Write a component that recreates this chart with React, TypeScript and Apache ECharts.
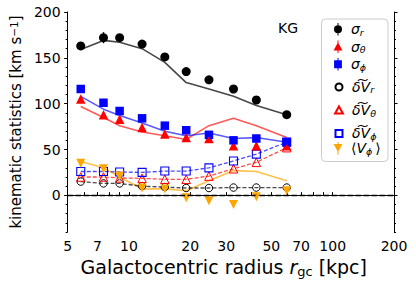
import React, { useEffect, useRef } from "react";
import * as echarts from "echarts";

// Galactocentric radius bins [kpc]
const radii = [5.8, 7.5, 9.0, 11.6, 15.0, 19.1, 24.7, 32.6, 42.2, 59.5];
// observed statistics [km/s]
const sigmaR = [163, 172, 172, 165, 151, 135, 126, 116, 104, 88];
const sigmaRErr = [2, 6, 2, 2, 2, 2, 2, 2, 2, 3];
const sigmaTheta = [105, 88, 83, 74, 67, 63, 62, 54, 54, 54];
const sigmaThetaErr = [2, 2, 2, 2, 2, 2, 2, 2, 2, 3];
const sigmaPhi = [116, 101, 92, 84, 76, 71, 66, 60, 62, 58];
const sigmaPhiErr = [2, 2, 2, 2, 2, 2, 2, 2, 2, 3];
const dVr = [15, 13, 13, 10, 9, 8, 8, 8.5, 8.5, 8.5];
const dVtheta = [20, 20, 19, 18.5, 17.5, 17.5, 21, 29, 36, 52];
const dVphi = [26, 26, 25.5, 25, 26.5, 26.5, 30, 37.5, 45, 58];
const meanVphi = [35, 29, 21, 8, 7, -2.5, -6, -10, -1.5, 5];
const meanVphiErr = [2, 2, 2, 2, 2, 2, 2, 2, 2, 2];
// model curves
const modelSigmaR = [159, 169, 167, 160, 145, 123, 116, 108, 98, 88];
const modelSigmaTheta = [97, 85, 76, 69, 65, 61, 76, 84, 76, 63];
const modelSigmaPhi = [108, 94, 87, 79, 70, 65, 68, 62, 63, 58];
const modelVphi = [37, 30, 20, 7, 7, 5, 16, 27, 26, 16];
// axes
const xRange = [5, 200];
const xTickLabels = [5, 7, 10, 20, 30, 50, 70, 100, 200];
const xTicks = [5, 6, 7, 8, 9, 10, 20, 30, 40, 50, 60, 70, 80, 90, 100, 200];
const yRange = [-40, 200];
const yTickLabels = [0, 50, 100, 150, 200];
const yMinorTicks = [-40, -30, -20, -10, 10, 20, 30, 40, 60, 70, 80, 90, 110, 120, 130, 140, 160, 170, 180, 190];

const FONT = "DejaVu Sans";
const lg = (v: number) => Math.log10(v);
const pts = (ys: number[]) => radii.map((r, i) => [lg(r), ys[i]]);
const errPts = (ys: number[], es: number[]) => radii.map((r, i) => [lg(r), ys[i] - es[i], ys[i] + es[i]]);

const errSeries = (name: string, ys: number[], es: number[], color: string) => ({
  type: "custom",
  name,
  z: 5,
  silent: true,
  data: errPts(ys, es),
  encode: { x: 0, y: [1, 2] },
  renderItem: (_p: any, api: any) => {
    const x = api.value(0);
    const a = api.coord([x, api.value(1)]);
    const b = api.coord([x, api.value(2)]);
    return {
      type: "line",
      shape: { x1: a[0], y1: a[1], x2: b[0], y2: b[1] },
      style: { stroke: color, lineWidth: 1.5 },
    };
  },
});

// legend icons, drawn in a 10 x H box (the two moveTo points pin the box)
const box = (h: number) => `path://M0,0 M10,${h} `;
const bar = (h: number, top: number, bot: number) => `M4.5,${top} h1 v${bot - top} h-1 Z `;
const ICON_SR = box(17.5) + bar(17.5, 2.4, 15.1) + "M5,4.75 A4,4 0 1,1 5,12.75 A4,4 0 1,1 5,4.75 Z";
const ICON_ST = box(17.5) + bar(17.5, 2.4, 15.1) + "M5,4.3 L9.4,12.4 L0.6,12.4 Z";
const ICON_SP = box(17.5) + bar(17.5, 2.4, 15.1) + "M1.1,4.85 h7.8 v7.8 h-7.8 Z";
const ICON_DR = box(21.2) + "M5,7.1 A3.5,3.5 0 1,1 5,14.1 A3.5,3.5 0 1,1 5,7.1 Z";
const ICON_DT = box(21.2) + "M5,6.8 L8.9,13.8 L1.1,13.8 Z";
const ICON_DP = box(21.2) + "M1.5,7.1 h7 v7 h-7 Z";
const ICON_VP = box(18) + bar(18, 2.6, 15.4) + "M0.6,4.8 L9.4,4.8 L5,12.6 Z";

const N_SR = "σ_r";
const N_ST = "σ_θ";
const N_SP = "σ_ϕ";
const N_DR = "δV_r";
const N_DT = "δV_θ";
const N_DP = "δV_ϕ";
const N_VP = "<V_ϕ>";

const legendText: Record<string, string> = {
  [N_SR]: "{g|σ}{s|r}",
  [N_ST]: "{g|σ}{s|θ}",
  [N_SP]: "{g|σ}{s|ϕ}",
  [N_DR]: "{g|δ\u0360V}{s|r}",
  [N_DT]: "{g|δ\u0360V}{s|θ}",
  [N_DP]: "{g|δ\u0360V}{s|ϕ}",
  [N_VP]: "{n|⟨}{h|V}{s|ϕ}{n|⟩}",
};

export default function App() {
  const ref = useRef<HTMLDivElement>(null);
  useEffect(() => {
    if (!ref.current) return;
    const chart = echarts.init(ref.current, undefined, { renderer: "svg" });
    const xMin = lg(xRange[0]);
    const xMax = lg(xRange[1]);
    const axisLineStyle = { color: "#000", width: 1 };
    const baseX = { type: "value", min: xMin, max: xMax, splitLine: { show: false } };
    const baseY = { type: "value", min: yRange[0], max: yRange[1], splitLine: { show: false } };
    const rich = {
      g: { fontFamily: FONT, fontStyle: "italic", fontSize: 14, lineHeight: 16, color: "#000", padding: [0, 0, 0, 3] },
      s: { fontFamily: FONT, fontStyle: "italic", fontSize: 9.5, lineHeight: 10, verticalAlign: "bottom", color: "#000" },
      n: { fontFamily: FONT, fontSize: 14, lineHeight: 16, color: "#000", padding: [0, 0, 0, 3] },
      h: { fontFamily: FONT, fontStyle: "italic", fontSize: 14, lineHeight: 16, color: "#000" },
    };
    const legendBase = {
      orient: "vertical",
      left: 333,
      padding: 0,
      itemGap: 0,
      itemWidth: 10,
      selectedMode: false,
      formatter: (name: string) => legendText[name] || name,
      textStyle: { fontFamily: FONT, fontSize: 14, color: "#000", rich },
    };
    const option: any = {
      animation: false,
      backgroundColor: "#fff",
      textStyle: { fontFamily: FONT },
      title: {
        text: "KG",
        left: 278,
        top: 21,
        padding: 0,
        textStyle: { fontFamily: FONT, fontSize: 14, fontWeight: "normal", color: "#000" },
      },
      graphic: [
        {
          type: "rect",
          z: 1,
          shape: { x: 321.5, y: 19, width: 66.5, height: 142.5, r: 4 },
          style: { fill: "rgba(255,255,255,0.85)", stroke: "#cccccc", lineWidth: 1 },
        },
      ],
      grid: { left: 62, right: 22, top: 12, bottom: 56 },
      legend: [
        {
          ...legendBase,
          top: 20.5,
          itemHeight: 17.5,
          data: [
            { name: N_SR, icon: ICON_SR },
            { name: N_ST, icon: ICON_ST },
            { name: N_SP, icon: ICON_SP },
          ],
        },
        {
          ...legendBase,
          top: 75.4,
          itemHeight: 21.2,
          data: [
            { name: N_DR, icon: ICON_DR },
            { name: N_DT, icon: ICON_DT },
            { name: N_DP, icon: ICON_DP },
          ],
        },
        {
          ...legendBase,
          top: 139.3,
          itemHeight: 18,
          data: [{ name: N_VP, icon: ICON_VP }],
        },
      ],
      xAxis: [
        {
          ...baseX,
          position: "bottom",
          name: "Galactocentric radius {it|r}{sub|gc} [kpc]",
          nameLocation: "middle",
          nameGap: 20,
          nameTextStyle: {
            fontFamily: FONT,
            fontSize: 19,
            color: "#000",
            padding: [0, 14, 0, 0],
            rich: {
              it: { fontFamily: FONT, fontStyle: "italic", fontSize: 19, color: "#000", lineHeight: 22 },
              sub: { fontFamily: FONT, fontSize: 13, color: "#000", verticalAlign: "bottom", lineHeight: 14 },
            },
          },
          axisLine: { show: true, lineStyle: axisLineStyle },
          axisTick: { show: true, inside: true, length: 3, customValues: xTicks.map(lg), lineStyle: axisLineStyle },
          axisLabel: {
            show: true,
            customValues: xTickLabels.map(lg),
            formatter: (v: number) => String(Math.round(Math.pow(10, v))),
            fontFamily: FONT,
            fontSize: 14,
            color: "#000",
            margin: 7,
            showMinLabel: true,
            showMaxLabel: true,
          },
        },
        {
          ...baseX,
          position: "top",
          axisLine: { show: true, lineStyle: axisLineStyle },
          axisTick: { show: true, inside: false, length: 3, customValues: xTicks.map(lg), lineStyle: axisLineStyle },
          axisLabel: { show: false },
        },
      ],
      yAxis: [
        {
          ...baseY,
          position: "left",
          name: "kinematic statistics [km s{sup|−1}]",
          nameLocation: "middle",
          nameGap: 40,
          nameRotate: 90,
          nameTextStyle: {
            fontFamily: FONT,
            fontSize: 15,
            color: "#000",
            rich: {
              sup: { fontFamily: FONT, fontSize: 10.5, color: "#000", verticalAlign: "top", lineHeight: 10 },
            },
          },
          axisLine: { show: true, lineStyle: axisLineStyle },
          axisTick: { show: true, inside: false, length: 3.5, customValues: yTickLabels, lineStyle: axisLineStyle },
          axisLabel: { show: true, customValues: yTickLabels, fontFamily: FONT, fontSize: 14, color: "#000", margin: 7 },
        },
        {
          ...baseY,
          position: "left",
          axisLine: { show: false },
          axisTick: { show: true, inside: false, length: 2, customValues: yMinorTicks, lineStyle: axisLineStyle },
          axisLabel: { show: false },
        },
        {
          ...baseY,
          position: "right",
          axisLine: { show: true, lineStyle: axisLineStyle },
          axisTick: { show: true, inside: false, length: 3.5, customValues: yTickLabels, lineStyle: axisLineStyle },
          axisLabel: { show: false },
        },
        {
          ...baseY,
          position: "right",
          axisLine: { show: false },
          axisTick: { show: true, inside: false, length: 2, customValues: yMinorTicks, lineStyle: axisLineStyle },
          axisLabel: { show: false },
        },
      ],
      series: [
        {
          type: "line",
          name: "model_sigma_r",
          data: pts(modelSigmaR),
          symbol: "none",
          z: 2,
          lineStyle: { color: "rgba(0,0,0,0.72)", width: 1.6 },
          markLine: {
            silent: true,
            symbol: "none",
            label: { show: false },
            lineStyle: { color: "#000", type: [5.5, 2.5], width: 1.4 },
            data: [{ yAxis: 0 }],
          },
        },
        {
          type: "line",
          name: "model_sigma_theta",
          data: pts(modelSigmaTheta),
          symbol: "none",
          z: 2,
          lineStyle: { color: "rgba(255,0,0,0.65)", width: 1.6 },
        },
        {
          type: "line",
          name: "model_sigma_phi",
          data: pts(modelSigmaPhi),
          symbol: "none",
          z: 2,
          lineStyle: { color: "rgba(0,0,255,0.65)", width: 1.6 },
        },
        {
          type: "line",
          name: "model_vphi",
          data: pts(modelVphi),
          symbol: "none",
          z: 2,
          lineStyle: { color: "rgba(255,165,0,0.7)", width: 1.6 },
        },
        {
          type: "line",
          name: N_DR,
          data: pts(dVr),
          symbol: "circle",
          symbolSize: 7.5,
          z: 3,
          color: "#000",
          lineStyle: { color: "rgba(0,0,0,0.7)", width: 1.3, type: [4, 2] },
          itemStyle: { color: "rgba(255,255,255,0)", borderColor: "#000", borderWidth: 1 },
        },
        {
          type: "line",
          name: N_DT,
          data: pts(dVtheta),
          symbol: "triangle",
          symbolSize: 8.5,
          z: 3,
          color: "#ff0000",
          lineStyle: { color: "rgba(255,0,0,0.7)", width: 1.3, type: [4, 2] },
          itemStyle: { color: "rgba(255,255,255,0)", borderColor: "#ff0000", borderWidth: 1 },
        },
        {
          type: "line",
          name: N_DP,
          data: pts(dVphi),
          symbol: "rect",
          symbolSize: 8,
          z: 3,
          color: "#0000ff",
          lineStyle: { color: "rgba(0,0,255,0.7)", width: 1.3, type: [4, 2] },
          itemStyle: { color: "rgba(255,255,255,0)", borderColor: "#0000ff", borderWidth: 1.1 },
        },
        errSeries("err_sr", sigmaR, sigmaRErr, "#000"),
        errSeries("err_st", sigmaTheta, sigmaThetaErr, "#ff0000"),
        errSeries("err_sp", sigmaPhi, sigmaPhiErr, "#0000ff"),
        errSeries("err_vp", meanVphi, meanVphiErr, "#ffa500"),
        {
          type: "scatter",
          name: N_VP,
          data: pts(meanVphi),
          symbol: "triangle",
          symbolRotate: 180,
          symbolSize: 9,
          z: 4,
          itemStyle: { color: "#ffa500", opacity: 1 },
        },
        {
          type: "scatter",
          name: N_ST,
          data: pts(sigmaTheta),
          symbol: "triangle",
          symbolSize: 9.5,
          z: 4,
          itemStyle: { color: "#ff0000", opacity: 1 },
        },
        {
          type: "scatter",
          name: N_SP,
          data: pts(sigmaPhi),
          symbol: "rect",
          symbolSize: 8.5,
          z: 4,
          itemStyle: { color: "#0000ff", opacity: 1 },
        },
        {
          type: "scatter",
          name: N_SR,
          data: pts(sigmaR),
          symbol: "circle",
          symbolSize: 9,
          z: 4,
          itemStyle: { color: "#000", opacity: 1 },
        },
      ],
    };
    chart.setOption(option);
    return () => chart.dispose();
  }, []);
  return (
    <div
      ref={ref}
      style={{ position: "fixed", left: 0, top: 0, width: 416, height: 288, background: "#fff" }}
    />
  );
}
